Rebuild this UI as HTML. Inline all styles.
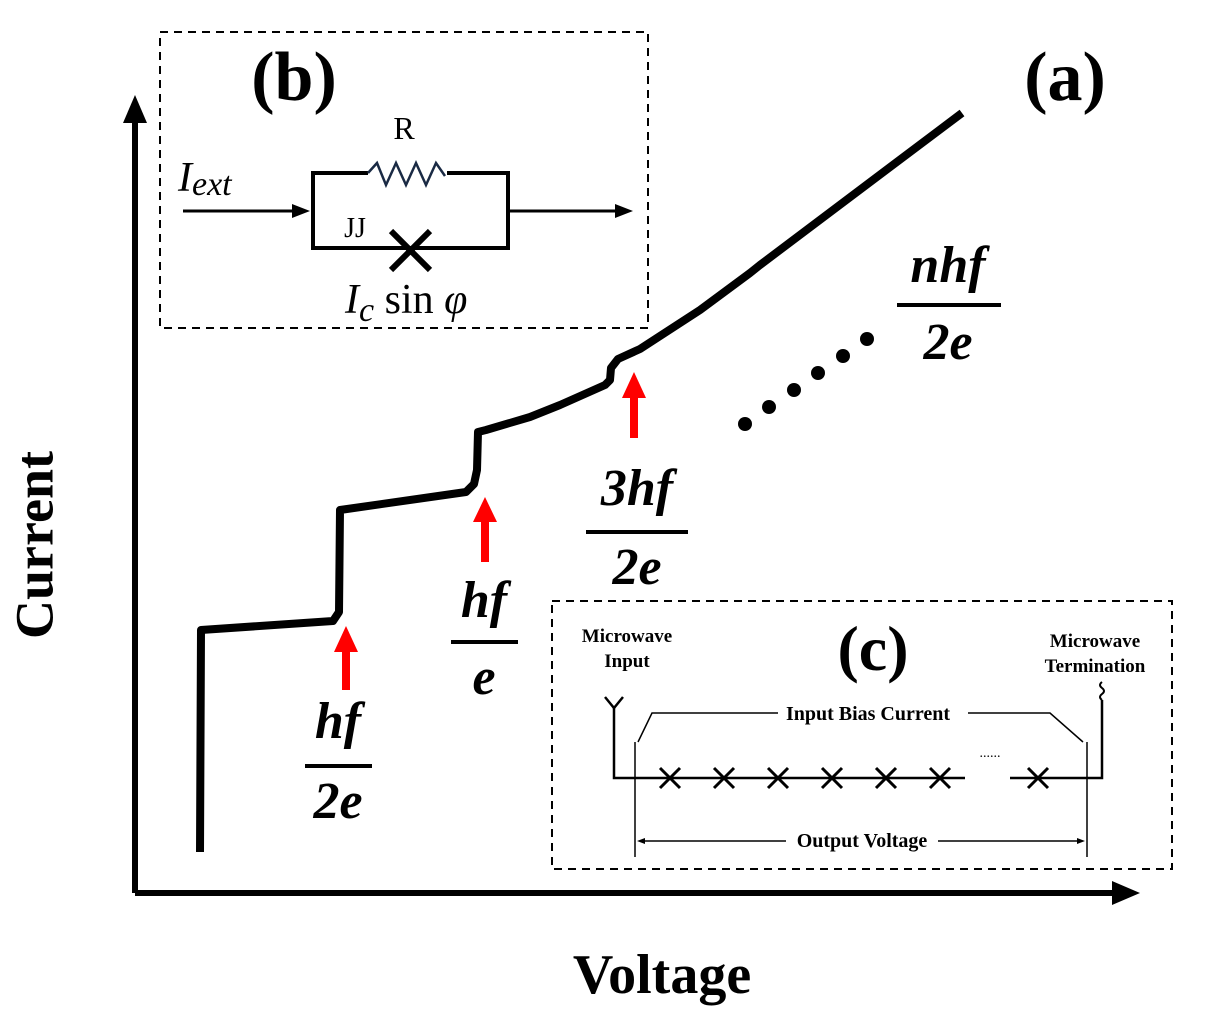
<!DOCTYPE html>
<html><head><meta charset="utf-8"><style>
html,body{margin:0;padding:0;background:#fff;}
svg{display:block;}
.m{font-family:"Liberation Serif",serif;font-weight:bold;font-style:italic;font-size:52px;}
.s{font-family:"Liberation Serif",serif;}
</style></head><body>
<svg width="1210" height="1014" viewBox="0 0 1210 1014" xmlns="http://www.w3.org/2000/svg">
<line x1="135" y1="893" x2="135" y2="118" stroke="#000" stroke-width="6"/>
<polygon points="135,95 123,123 147,123" fill="#000"/>
<line x1="135" y1="893" x2="1115" y2="893" stroke="#000" stroke-width="6"/>
<polygon points="1140,893 1112,881 1112,905" fill="#000"/>
<text x="40" y="545" transform="rotate(-90 40 545)" text-anchor="middle" dominant-baseline="middle" class="s" font-weight="bold" font-size="54">Current</text>
<text x="662" y="993" text-anchor="middle" class="s" font-weight="bold" font-size="56">Voltage</text>
<polyline fill="none" stroke="#000" stroke-width="8" stroke-linejoin="round" points="200,852 201,630 333,621 339,612 340,510 466,492 474,484 477,470 478,432 486,430 530,417 560,405 605,385 610,380 611,368 618,359 640,349 700,310 750,273 760,265 962,113"/>
<g fill="red" stroke="red">
<line x1="346" y1="690" x2="346" y2="650" stroke-width="8"/><polygon points="346,626 334,652 358,652" stroke="none"/>
<line x1="485" y1="562" x2="485" y2="520" stroke-width="8"/><polygon points="485,497 473,522 497,522" stroke="none"/>
<line x1="634" y1="438" x2="634" y2="396" stroke-width="8"/><polygon points="634,372 622,398 646,398" stroke="none"/>
</g>
<text x="338" y="738" text-anchor="middle" class="m">hf</text>
<line x1="305" y1="766" x2="372" y2="766" stroke="#000" stroke-width="4"/>
<text x="338" y="818" text-anchor="middle" class="m">2e</text>
<text x="484" y="617" text-anchor="middle" class="m">hf</text>
<line x1="451" y1="642" x2="518" y2="642" stroke="#000" stroke-width="4"/>
<text x="484" y="694" text-anchor="middle" class="m">e</text>
<text x="637" y="505" text-anchor="middle" class="m">3hf</text>
<line x1="586" y1="532" x2="688" y2="532" stroke="#000" stroke-width="4"/>
<text x="637" y="584" text-anchor="middle" class="m">2e</text>
<text x="948" y="282" text-anchor="middle" class="m">nhf</text>
<line x1="897" y1="305" x2="1001" y2="305" stroke="#000" stroke-width="4"/>
<text x="948" y="359" text-anchor="middle" class="m">2e</text>
<g fill="#000">
<circle cx="745" cy="424" r="7"/><circle cx="769" cy="407" r="7"/><circle cx="794" cy="390" r="7"/><circle cx="818" cy="373" r="7"/><circle cx="843" cy="356" r="7"/><circle cx="867" cy="339" r="7"/>
</g>
<text x="1065" y="100" text-anchor="middle" class="s" font-weight="bold" font-size="70">(a)</text>
<rect x="160" y="32" width="488" height="296" fill="none" stroke="#000" stroke-width="2" stroke-dasharray="8,6"/>
<text x="294" y="100" text-anchor="middle" class="s" font-weight="bold" font-size="70">(b)</text>
<text x="404" y="139" text-anchor="middle" class="s" font-size="32">R</text>
<polyline fill="none" stroke="#000" stroke-width="4" points="368,173 313,173 313,248 508,248 508,173 447,173"/>
<polyline fill="none" stroke="#1a2a44" stroke-width="2.5" points="368,173 377,163 386,185 396,163 406,185 416,163 426,185 436,163 445,176"/>
<line x1="183" y1="211" x2="295" y2="211" stroke="#000" stroke-width="3"/><polygon points="310,211 292,204 292,218" fill="#000"/>
<line x1="508" y1="211" x2="618" y2="211" stroke="#000" stroke-width="3"/><polygon points="633,211 615,204 615,218" fill="#000"/>
<text x="355" y="237" text-anchor="middle" class="s" font-size="28">JJ</text>
<g stroke="#000" stroke-width="6"><line x1="391" y1="231" x2="430" y2="270"/><line x1="430" y1="231" x2="391" y2="270"/></g>
<text x="178" y="191" class="s" font-style="italic" font-size="42">I<tspan font-size="34" dy="4">ext</tspan></text>
<text x="345" y="313" class="s" font-size="42"><tspan font-style="italic">I</tspan><tspan font-style="italic" font-size="34" dy="8">c</tspan><tspan dy="-8"> sin </tspan><tspan font-style="italic">φ</tspan></text>
<rect x="552" y="601" width="620" height="268" fill="none" stroke="#000" stroke-width="2" stroke-dasharray="8,6"/>
<text x="873" y="670" text-anchor="middle" class="s" font-weight="bold" font-size="64">(c)</text>
<g class="s" font-weight="bold" font-size="19" text-anchor="middle">
<text x="627" y="642">Microwave</text><text x="627" y="667">Input</text>
<text x="1095" y="647">Microwave</text><text x="1095" y="672">Termination</text>
<text x="868" y="720" font-size="20">Input Bias Current</text>
<text x="862" y="847" font-size="20">Output Voltage</text>
</g>
<text x="990" y="757" text-anchor="middle" class="s" font-size="14">......</text>
<g stroke="#000" fill="none">
<polyline stroke-width="2.5" points="605,697 614,708 623,697"/>
<polyline stroke-width="2.5" points="614,708 614,778 965,778"/>
<polyline stroke-width="2.5" points="1010,778 1102,778 1102,700"/>
<path stroke-width="2" d="M1102,700 q-4,-3 0,-6 q4,-3 0,-6 q-4,-3 0,-6"/>
<line stroke-width="1.5" x1="635" y1="742" x2="635" y2="857"/>
<line stroke-width="1.5" x1="1087" y1="742" x2="1087" y2="857"/>
<polyline stroke-width="1.5" points="638,742 652,713 778,713"/>
<polyline stroke-width="1.5" points="968,713 1050,713 1083,742"/>
<line stroke-width="1.5" x1="642" y1="841" x2="786" y2="841"/>
<line stroke-width="1.5" x1="938" y1="841" x2="1080" y2="841"/>
<g stroke-width="3">
<path d="M660,768l20,20M680,768l-20,20"/>
<path d="M714,768l20,20M734,768l-20,20"/>
<path d="M768,768l20,20M788,768l-20,20"/>
<path d="M822,768l20,20M842,768l-20,20"/>
<path d="M876,768l20,20M896,768l-20,20"/>
<path d="M930,768l20,20M950,768l-20,20"/>
<path d="M1028,768l20,20M1048,768l-20,20"/>
</g>
</g>
<polygon points="637,841 645,838 645,844" fill="#000"/>
<polygon points="1085,841 1077,838 1077,844" fill="#000"/>
</svg>
</body></html>
